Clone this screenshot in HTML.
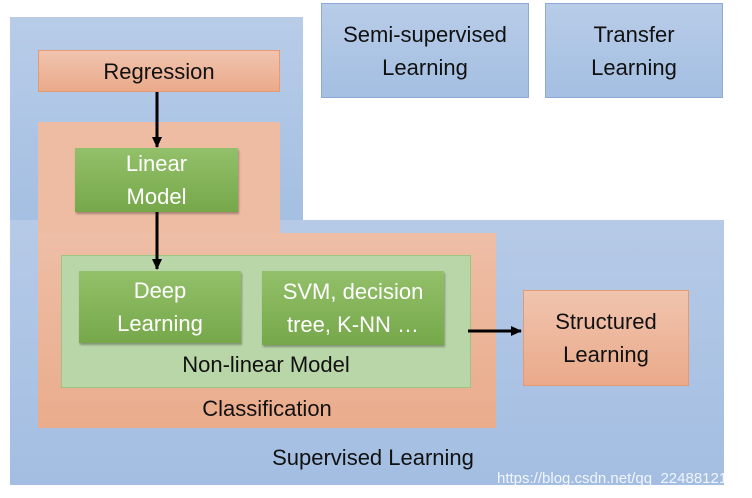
<!DOCTYPE html><html><head><style>
body{margin:0;width:752px;height:498px;background:#fff;position:relative;overflow:hidden;font-family:"Liberation Sans","DejaVu Sans",sans-serif}
div{position:absolute;box-sizing:border-box}
.t{display:flex;align-items:center;justify-content:center;text-align:center;line-height:33px;font-size:22px;color:#111}
.blue{background:linear-gradient(#b8cce8,#a4bfe2)}
.sal{background:linear-gradient(#f0c4ae,#eaaa8a);border:1.5px solid #e59a72}
.grn{background:linear-gradient(#93c06a,#76a84a);color:#fff;box-shadow:1px 2px 2px rgba(0,0,0,.3)}
</style></head><body>
<div class="blue" style="left:10px;top:17px;width:293px;height:210px"></div>
<div class="blue" style="left:10px;top:220px;width:714px;height:265px;background:linear-gradient(#b6cae7,#a3bee2)"></div>
<div class="blue t" style="left:321px;top:3px;width:208px;height:95px;border:1px solid #8eaad6">Semi-supervised<br>Learning</div>
<div class="blue t" style="left:545px;top:3px;width:178px;height:95px;border:1px solid #8eaad6">Transfer<br>Learning</div>
<div class="sal t" style="left:38px;top:50px;width:242px;height:42px">Regression</div>
<div style="left:38px;top:122px;width:242px;height:120px;background:#edbca3"></div>
<div style="left:38px;top:233px;width:458px;height:195px;background:linear-gradient(#eebea6,#eaac8c)"></div>
<div style="left:61px;top:255px;width:410px;height:133px;background:#b9d6a8;border:1.5px solid #9cc581"></div>
<div class="grn t" style="left:75px;top:148px;width:163px;height:64px">Linear<br>Model</div>
<div class="grn t" style="left:79px;top:271px;width:162px;height:72px">Deep<br>Learning</div>
<div class="grn t" style="left:262px;top:271px;width:182px;height:74px">SVM, decision<br>tree, K-NN …</div>
<div class="t" style="left:61px;top:348px;width:410px;height:32px">Non-linear Model</div>
<div class="t" style="left:38px;top:392px;width:458px;height:32px">Classification</div>
<div class="sal t" style="left:523px;top:290px;width:166px;height:96px">Structured<br>Learning</div>
<div class="t" style="left:200px;top:441px;width:346px;height:32px">Supervised Learning</div>
<div style="left:497px;top:470px;font-size:15px;color:rgba(255,255,255,.85);font-family:'Liberation Sans',sans-serif">https://blog.csdn.net/qq_22488121</div>
<svg width="752" height="498" style="position:absolute;left:0;top:0">
<defs><marker id="a" markerWidth="11" markerHeight="10" refX="10" refY="5" orient="auto" markerUnits="userSpaceOnUse"><path d="M0,0L11,5L0,10z" fill="#000"/></marker></defs>
<line x1="157" y1="92" x2="157" y2="147" stroke="#000" stroke-width="3" marker-end="url(#a)"/>
<line x1="157" y1="212" x2="157" y2="269" stroke="#000" stroke-width="3" marker-end="url(#a)"/>
<line x1="468" y1="331" x2="521" y2="331" stroke="#000" stroke-width="3" marker-end="url(#a)"/>
</svg>
</body></html>
